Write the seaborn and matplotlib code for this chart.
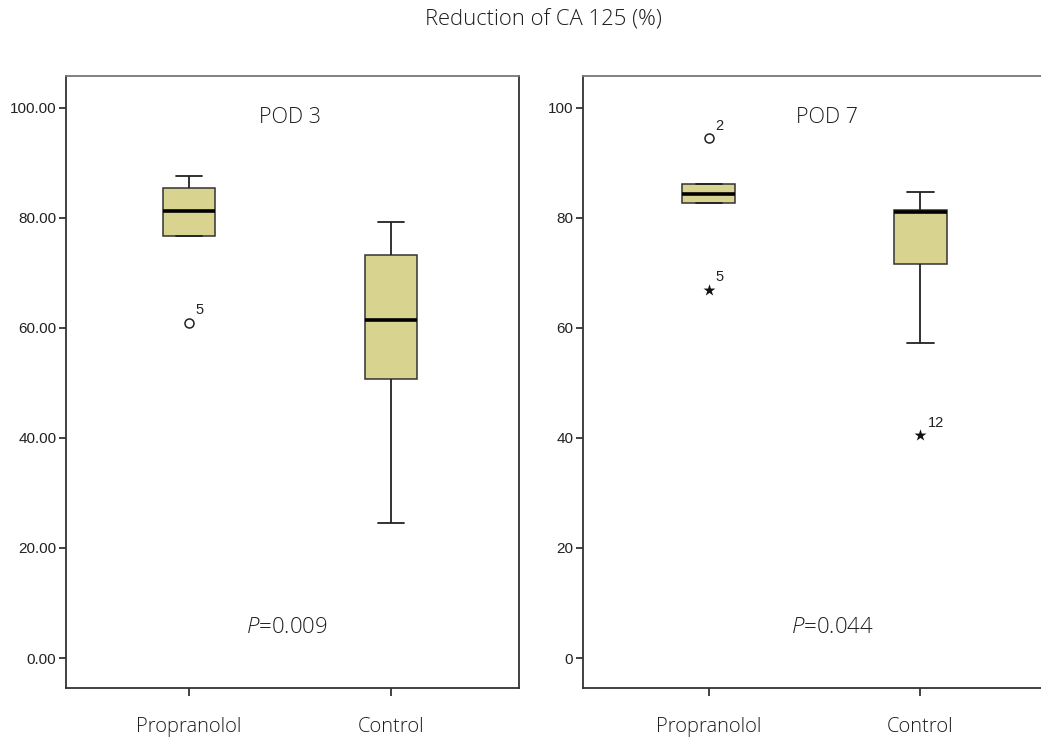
import numpy as np
import pandas as pd
import matplotlib
matplotlib.use("Agg")
import matplotlib.pyplot as plt
import seaborn as sns

# ---- data (five-number summaries: low whisker, Q1, median, Q3, high whisker)
groups = ["Propranolol", "Control"]
pod3_propranolol = [76.7, 76.7, 81.3, 85.5, 87.6]
pod3_control = [24.6, 50.7, 61.5, 73.3, 79.2]
pod7_propranolol = [82.8, 82.8, 84.3, 86.2, 86.2]
pod7_control = [57.2, 71.6, 81.0, 81.5, 84.7]

# outliers (circle) and extremes (star), with case labels
pod3_out_group = ["Propranolol"]
pod3_out_value = [60.9]
pod3_out_label = ["5"]
pod3_ext_group = []
pod3_ext_value = []
pod3_ext_label = []

pod7_out_group = ["Propranolol"]
pod7_out_value = [94.5]
pod7_out_label = ["2"]
pod7_ext_group = ["Propranolol", "Control"]
pod7_ext_value = [66.9, 40.5]
pod7_ext_label = ["5", "12"]

panel_titles = ["POD 3", "POD 7"]
p_texts = ["0.009", "0.044"]
y_ticks = [0, 20, 40, 60, 80, 100]
y_fmt = ["{:.2f}", "{:.0f}"]
title = "Reduction of CA 125 (%)"

sns.set_style("ticks")
plt.rcParams["font.family"] = ["Open Sans", "DejaVu Sans"]
plt.rcParams["font.weight"] = "light"
plt.rcParams["mathtext.fontset"] = "custom"
plt.rcParams["mathtext.rm"] = "Open Sans:light"
plt.rcParams["mathtext.it"] = "Open Sans:italic:light"

FILL = "#D8D38F"
EDGE = "#333333"
TEXTC = "#1e1e1e"

fig = plt.figure(figsize=(10.41, 7.42), dpi=100)
ax1 = fig.add_axes([0.0634, 0.0728, 0.4352, 0.8248])
ax2 = fig.add_axes([0.5600, 0.0728, 0.4534, 0.8248])

panels = [
    (ax1, pod3_propranolol, pod3_control, pod3_out_group, pod3_out_value, pod3_out_label,
     pod3_ext_group, pod3_ext_value, pod3_ext_label, 0.26, (-0.609, 1.634), 0.50, 0.485),
    (ax2, pod7_propranolol, pod7_control, pod7_out_group, pod7_out_value, pod7_out_label,
     pod7_ext_group, pod7_ext_value, pod7_ext_label, 0.25, (-0.594, 1.635), 0.557, 0.585),
]

for i, (ax, prop, ctrl, og, ov, ol, eg, ev, el, bw, xl, tx, px) in enumerate(panels):
    df = pd.DataFrame({
        "group": [groups[0]] * len(prop) + [groups[1]] * len(ctrl),
        "value": prop + ctrl,
    })
    sns.boxplot(data=df, x="group", y="value", order=groups, ax=ax,
                color=FILL, saturation=1, width=bw, whis=(0, 100), showfliers=False,
                linecolor=EDGE, linewidth=1.1,
                medianprops=dict(color="black", linewidth=2.6),
                whiskerprops=dict(color="#222222", linewidth=1.3),
                capprops=dict(color="#222222", linewidth=1.3))
    if og:
        sns.stripplot(x=og, y=ov, order=groups, ax=ax, jitter=False, marker="o",
                      size=6.5, color="white", edgecolor="#222222", linewidth=1.1, zorder=5)
    if eg:
        sns.stripplot(x=eg, y=ev, order=groups, ax=ax, jitter=False, marker="*",
                      size=9, color="#111111", linewidth=0, zorder=5)
    for g, v, lab in list(zip(og, ov, ol)) + list(zip(eg, ev, el)):
        ax.annotate(lab, xy=(groups.index(g), v), xytext=(5, 4), textcoords="offset points",
                    fontsize=10.5, family=["Liberation Sans"], weight="normal", color="#222222",
                    ha="left", va="bottom")

    ax.set_xlim(*xl)
    ax.set_ylim(-5.45, 105.8)
    ax.set_yticks(y_ticks)
    ax.set_yticklabels([y_fmt[i].format(t) for t in y_ticks],
                       family=["Liberation Sans"], weight="normal", fontsize=11, color="#222222")
    ax.set_xticks([0, 1])
    ax.set_xticklabels(groups, fontsize=14.5, color=TEXTC)
    ax.set_xlabel("")
    ax.set_ylabel("")
    ax.tick_params(axis="y", direction="out", length=5, width=1.2, color="#222222", pad=2)
    ax.tick_params(axis="x", direction="out", length=6, width=1.2, color="#222222", pad=15)
    for s in ["left", "bottom", "right", "top"]:
        ax.spines[s].set_visible(True)
        ax.spines[s].set_color("#333333")
        ax.spines[s].set_linewidth(1.3)
    ax.spines["top"].set_color("#777777")

    ax.text(tx, 98.2, panel_titles[i], ha="center", va="center", fontsize=15.5, color=TEXTC)
    ax.text(px, 5.5, r"$\it{P}$=" + p_texts[i], ha="center", va="center", fontsize=16, color=TEXTC)

fig.text(0.5216, 0.973, title, ha="center", va="center", fontsize=15.8, color=TEXTC)

fig.savefig("out.png", dpi=100)
